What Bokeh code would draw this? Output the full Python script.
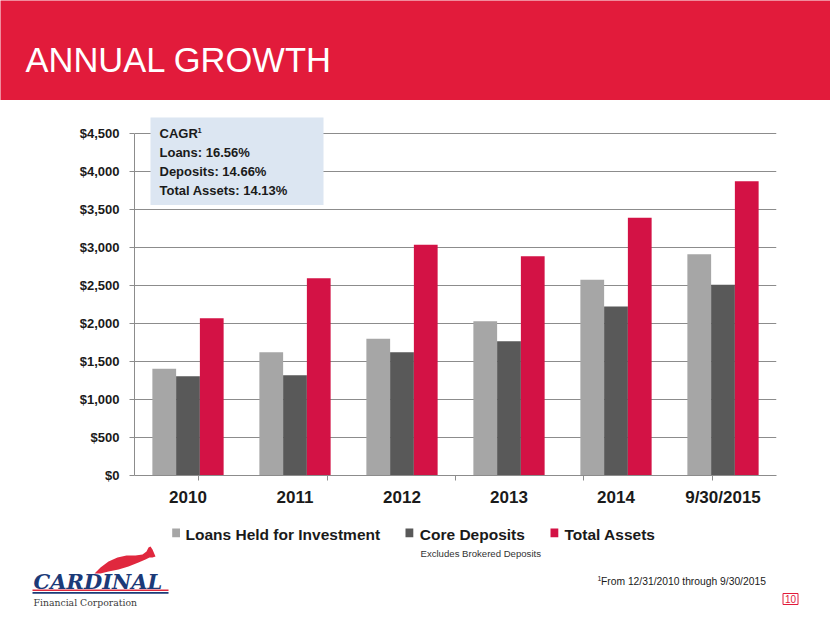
from bokeh.plotting import figure
from bokeh.layouts import column
from bokeh.models import (ColumnDataSource, Range1d, FactorRange, FixedTicker, CategoricalAxis,
                          NumeralTickFormatter, BoxAnnotation, Label)
from bokeh.transform import dodge
from bokeh.embed import file_html
from bokeh.resources import INLINE

# ---------------- data ----------------
years = ["2010", "2011", "2012", "2013", "2014", "9/30/2015"]
loans = [1404, 1622, 1799, 2030, 2575, 2912]
deposits = [1307, 1320, 1622, 1767, 2224, 2509]
assets = [2070, 2596, 3036, 2886, 3391, 3872]
series_names = ["Loans Held for Investment", "Core Deposits", "Total Assets"]
y_ticks = [0, 500, 1000, 1500, 2000, 2500, 3000, 3500, 4000, 4500]
cagr_title = "CAGR"
cagr_lines = ["Loans: 16.56%", "Deposits: 14.66%", "Total Assets: 14.13%"]
title_text = "ANNUAL GROWTH"
legend_note = "Excludes Brokered Deposits"
footnote = "From 12/31/2010 through 9/30/2015"
page_no = "10"

# ---------------- style ----------------
C_LOANS = "#A6A6A6"
C_DEP = "#595959"
C_ASSETS = "#D31245"
C_HEADER = "#E21B3B"
C_GRID = "#8C8C8C"
C_NAVY = "#1B3A78"
C_LOGO_RED = "#E0283E"
SANS = "Liberation Sans"
TXT = "#1A1A1A"
series_colors = [C_LOANS, C_DEP, C_ASSETS]

W = 830


def page_fig(y_top, y_bottom, fill="white"):
    """A plain figure whose data coordinates are the page's pixel coordinates."""
    f = figure(width=W, height=y_bottom - y_top, x_range=Range1d(0, W),
               y_range=Range1d(y_bottom, y_top), output_backend="svg", toolbar_location=None,
               x_axis_location=None, y_axis_location=None,
               min_border_left=0, min_border_right=0, min_border_top=0, min_border_bottom=0)
    f.grid.visible = False
    f.outline_line_color = None
    f.background_fill_color = fill
    f.border_fill_color = fill
    f.frame_align = False
    return f


# ---------------- header ----------------
header = page_fig(0, 100, fill=C_HEADER)
header.add_layout(Label(x=25, y=59.5, text=title_text, text_color="white", text_font=SANS,
                        text_font_size="34.5px", text_baseline="middle"))

# ---------------- chart ----------------
src = ColumnDataSource(dict(year=years, loans=loans, deposits=deposits, assets=assets))

CH_TOP, CH_BOTTOM = 100, 515
p = figure(x_range=years, y_range=Range1d(0, 4724), width=W, height=CH_BOTTOM - CH_TOP,
           output_backend="svg", toolbar_location=None, x_axis_location=None,
           min_border_left=134, min_border_right=54, min_border_top=16, min_border_bottom=40)
p.frame_align = False
p.x_range.range_padding = 0
p.outline_line_color = None
p.background_fill_color = "white"
p.border_fill_color = "white"

BW = 0.222
r1 = p.vbar(x=dodge("year", -BW, range=p.x_range), top="loans", width=BW, source=src,
            fill_color=C_LOANS, line_color=None)
r2 = p.vbar(x=dodge("year", 0.0, range=p.x_range), top="deposits", width=BW, source=src,
            fill_color=C_DEP, line_color=None)
r3 = p.vbar(x=dodge("year", BW, range=p.x_range), top="assets", width=BW, source=src,
            fill_color=C_ASSETS, line_color=None)

ya = p.yaxis[0]
ya.ticker = FixedTicker(ticks=y_ticks)
ya.bounds = (0, 4500)
ya.formatter = NumeralTickFormatter(format="$0,0")
ya.axis_line_color = C_GRID
ya.major_tick_line_color = C_GRID
ya.major_tick_out = 5
ya.major_tick_in = 0
ya.minor_tick_line_color = None
ya.major_label_standoff = 10
ya.major_label_text_font = SANS
ya.major_label_text_font_style = "bold"
ya.major_label_text_font_size = "13px"
ya.major_label_text_color = TXT

p.ygrid.ticker = FixedTicker(ticks=y_ticks)
p.ygrid.grid_line_color = C_GRID
p.xgrid.grid_line_color = None

# boundary ticks: an extra factor range shifted by half a category
bounds = ["b%d" % i for i in range(len(years) + 1)]
p.extra_x_ranges = {"bounds": FactorRange(factors=bounds, range_padding=-1,
                                          range_padding_units="absolute")}
tick_axis = CategoricalAxis(x_range_name="bounds",
                            axis_line_color=C_GRID, major_tick_line_color=C_GRID,
                            major_tick_out=5, major_tick_in=0,
                            major_label_text_font_size="1px", major_label_text_color=None,
                            major_label_standoff=0)
p.add_layout(tick_axis, "below")
cat_axis = CategoricalAxis(axis_line_color=None, major_tick_line_color=None,
                           major_tick_out=0, major_tick_in=0,
                           major_label_standoff=7, major_label_text_font=SANS,
                           major_label_text_font_style="bold", major_label_text_font_size="17px",
                           major_label_text_color=TXT)
p.add_layout(cat_axis, "below")

# CAGR box (inside the frame), placed from page pixel positions
Y0, KY, X0, KX = 475.0, 0.076, 134.0, 107.0
def X(px):
    return (px - X0) / KX
def Y(py):
    return (Y0 - py) / KY

p.add_layout(BoxAnnotation(left=X(150), right=X(323), top=Y(117), bottom=Y(204.5),
                           fill_color="#DCE6F2", fill_alpha=1, line_color=None, level="overlay"))
p.add_layout(Label(x=X(159), y=Y(132.8), text=cagr_title, text_color=TXT, text_font=SANS,
                   text_font_style="bold", text_font_size="13px", text_baseline="middle",
                   level="overlay"))
p.add_layout(Label(x=X(197), y=Y(129.5), text="1", text_color=TXT, text_font=SANS,
                   text_font_style="bold", text_font_size="7.5px", text_baseline="middle",
                   level="overlay"))
for i, t in enumerate(cagr_lines):
    p.add_layout(Label(x=X(159), y=Y(152.3 + 19 * i), text=t, text_color=TXT, text_font=SANS,
                       text_font_style="bold", text_font_size="13px", text_baseline="middle",
                       level="overlay"))

# ---------------- bottom strip: legend, notes, logo ----------------
b = page_fig(CH_BOTTOM, 623)

leg_sq_x = [171.7, 405.0, 550.0]
leg_txt_x = [185.0, 419.3, 564.0]
b.quad(left=leg_sq_x, right=[v + 7.8 for v in leg_sq_x], top=[528] * 3, bottom=[536.8] * 3,
       fill_color=series_colors, line_color=None)
b.text(x=leg_txt_x, y=[533.5] * 3, text=series_names, text_color=TXT,
       text_font={"value": SANS}, text_font_style="bold", text_font_size="15.5px",
       text_baseline="middle")
b.add_layout(Label(x=420, y=552.5, text=legend_note, text_color="#333333", text_font=SANS,
                   text_font_size="9.6px", text_baseline="middle"))

# footnote
b.add_layout(Label(x=597, y=578, text="1", text_color=TXT, text_font=SANS,
                   text_font_size="7px", text_baseline="middle"))
b.add_layout(Label(x=600.5, y=581.3, text=footnote, text_color=TXT, text_font=SANS,
                   text_font_size="10.3px", text_baseline="middle"))

# page number
b.quad(left=[782.5], right=[797.5], top=[593], bottom=[604], fill_color=None,
       line_color=C_HEADER, line_width=1)
b.add_layout(Label(x=790, y=598.5, text=page_no, text_color=C_HEADER, text_font=SANS,
                   text_font_size="10px", text_align="center", text_baseline="middle"))

# logo (approximation of the Cardinal Financial mark)
bird_x = [94, 100, 108, 117, 126, 135, 142, 146, 148, 150, 152, 155, 152, 149, 145, 138, 128, 118, 108, 100]
bird_y = [573, 567, 561, 557, 555, 555, 554, 551, 547, 546, 549, 556, 557, 557, 559, 562, 566, 569, 571, 573]
b.patch(bird_x, bird_y, fill_color=C_LOGO_RED, line_color=None)
b.add_layout(Label(x=33, y=580.5, text="CARDINAL", text_color=C_NAVY,
                   text_font="DejaVu Serif", text_font_style="bold italic",
                   text_font_size="21px", text_baseline="middle"))
b.quad(left=[32], right=[168], top=[589], bottom=[590.6], fill_color=C_LOGO_RED, line_color=None)
b.quad(left=[32], right=[168], top=[591.6], bottom=[593.2], fill_color=C_NAVY, line_color=None)
b.add_layout(Label(x=33, y=601.5, text="Financial Corporation", text_color="#3A3A3A",
                   text_font="DejaVu Serif", text_font_size="9.3px", text_baseline="middle"))

layout = column(header, p, b, spacing=0)
open("out.html", "w").write(file_html(layout, INLINE))
